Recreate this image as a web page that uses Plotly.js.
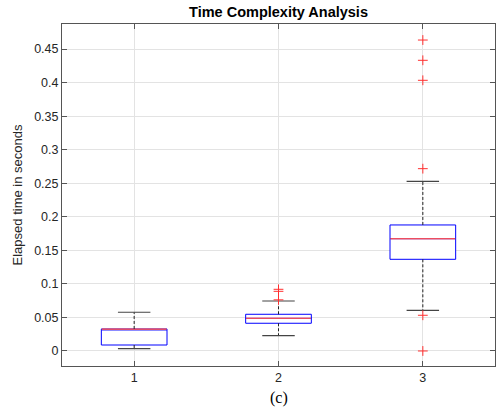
<!DOCTYPE html>
<html><head><meta charset="utf-8">
<script src="https://cdn.plot.ly/plotly-3.0.1.min.js"></script>
<style>html,body{margin:0;padding:0;background:#fff}#chart{width:500px;height:411px}</style>
</head><body><div id="chart"></div>
<script>
const categories = [1, 2, 3];
const q1 = [0.0089, 0.0413, 0.1366];
const medians = [0.0325, 0.0487, 0.1673];
const q3 = [0.0328, 0.0547, 0.1878];
const lowerWhisker = [0.0034, 0.0228, 0.0606];
const upperWhisker = [0.0577, 0.0745, 0.2529];
const outlierX = [2, 2, 2, 3, 3, 3, 3, 3, 3];
const outlierY = [0.0919, 0.0889, 0.0762, 0.4634, 0.4332, 0.4034, 0.2717, 0.0532, 0.0];
const yTicks = [0, 0.05, 0.1, 0.15, 0.2, 0.25, 0.3, 0.35, 0.4, 0.45];
const yTickText = ['0', '0.05', '0.1', '0.15', '0.2', '0.25', '0.3', '0.35', '0.4', '0.45'];

const boxW = 0.455, capHalf = 0.1125;

const wx = [], wy = [];
categories.forEach((c, i) => {
  wx.push(c, c, null, c, c, null);
  wy.push(q3[i], upperWhisker[i], null, q1[i], lowerWhisker[i], null);
});
const cx = [], cy = [];
categories.forEach((c, i) => {
  cx.push(c - capHalf, c + capHalf, null, c - capHalf, c + capHalf, null);
  cy.push(upperWhisker[i], upperWhisker[i], null, lowerWhisker[i], lowerWhisker[i], null);
});

const traces = [
  {type: 'scatter', mode: 'lines', x: wx, y: wy, line: {color: '#222', width: 1, dash: '3px,2px'}, hoverinfo: 'skip', showlegend: false},
  {type: 'scatter', mode: 'lines', x: cx, y: cy, line: {color: '#444', width: 1.2}, hoverinfo: 'skip', showlegend: false},
  {type: 'box', x: categories, q1: q1, median: medians, q3: q3, lowerfence: q1, upperfence: q3,
   width: boxW, whiskerwidth: 0, boxpoints: false, fillcolor: 'rgba(255,255,255,1)',
   line: {color: '#0000ff', width: 1}, showlegend: false},
  {type: 'box', x: categories, q1: medians, median: medians, q3: medians, lowerfence: medians, upperfence: medians,
   width: boxW * 0.985, whiskerwidth: 0, boxpoints: false, fillcolor: 'rgba(0,0,0,0)',
   line: {color: '#ff5050', width: 0.7}, showlegend: false},
  {type: 'scatter', mode: 'markers', x: outlierX, y: outlierY,
   marker: {symbol: 'cross-thin-open', size: 7, color: '#ff3030', line: {color: '#ff3030', width: 1}}, showlegend: false}
];

const layout = {
  width: 500, height: 411,
  margin: {l: 62, r: 5, t: 24, b: 45},
  paper_bgcolor: '#fff', plot_bgcolor: '#fff',
  boxmode: 'overlay',
  font: {family: 'Liberation Sans, Arial, sans-serif', size: 12, color: '#262626'},
  title: {text: '<b>Time Complexity Analysis</b>', x: 0.557, xanchor: 'center', y: 0.971, yanchor: 'middle',
          font: {family: 'Liberation Sans, Arial, sans-serif', size: 14.5, color: '#000'}},
  xaxis: {range: [0.5, 3.5], tickvals: categories, ticktext: categories.map(String),
          showgrid: true, gridcolor: '#e3e3e3', gridwidth: 1, zeroline: false,
          showline: true, linecolor: '#555', linewidth: 1, mirror: 'ticks',
          ticks: 'inside', ticklen: 5, tickcolor: '#555', tickfont: {size: 12.5, color: '#262626'}},
  yaxis: {range: [-0.0224, 0.4873], tickvals: yTicks, ticktext: yTickText,
          showgrid: true, gridcolor: '#e3e3e3', gridwidth: 1, zeroline: false,
          showline: true, linecolor: '#555', linewidth: 1, mirror: 'ticks',
          ticks: 'inside', ticklen: 5, tickcolor: '#555', tickfont: {size: 12.5, color: '#262626'},
          title: {text: 'Elapsed time in seconds', standoff: 8, font: {size: 13, color: '#262626'}}},
  annotations: [{text: '(c)', xref: 'paper', yref: 'paper', x: 0.5, y: -0.093, xanchor: 'center', yanchor: 'middle',
                 showarrow: false, font: {family: 'Liberation Serif, Times New Roman, serif', size: 16, color: '#000'}}]
};

Plotly.newPlot('chart', traces, layout, {displayModeBar: false, staticPlot: true});
</script></body></html>
